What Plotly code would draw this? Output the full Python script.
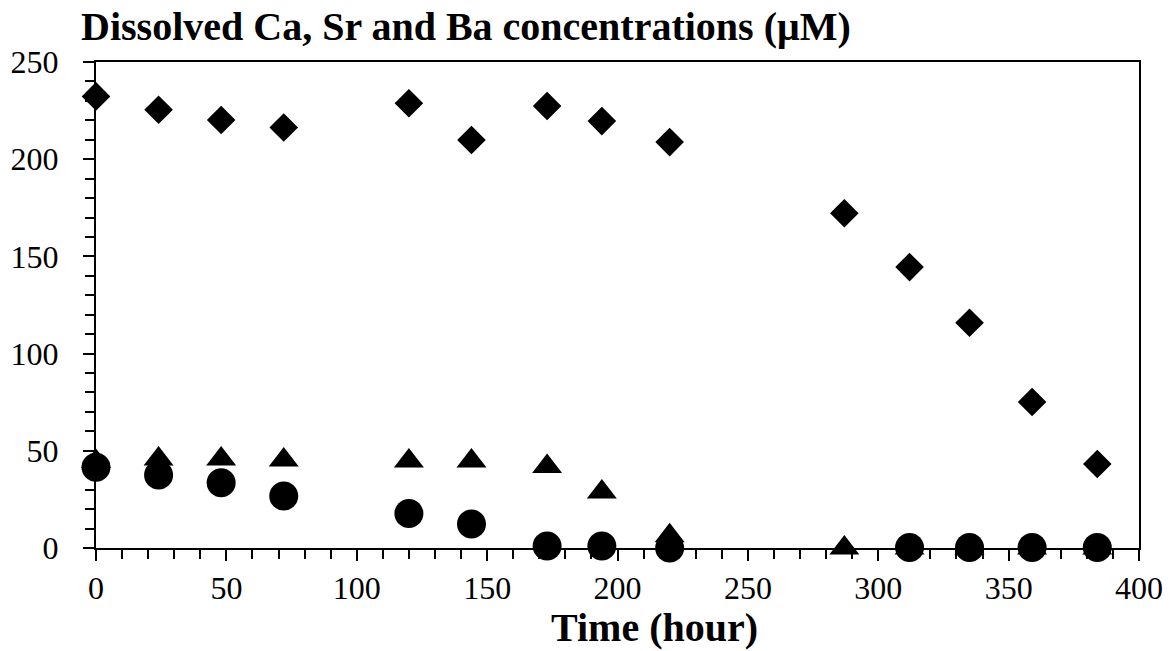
import plotly.graph_objects as go

# Data
time_ca = [0, 24, 48, 72, 120, 144, 173, 194, 220, 287, 312, 335, 359, 384]
ca = [232.3, 225.4, 220.2, 216.3, 228.8, 209.9, 227.4, 219.6, 208.8, 172.2, 144.5, 115.9, 75.1, 43.2]

time_sr = [0, 24, 48, 72, 120, 144, 173, 194, 220, 287, 312, 335, 359, 384]
sr = [44.5, 45.8, 45.8, 45.3, 44.8, 44.8, 41.9, 28.8, 6.3, 0, 0, 0, 0, 0]

time_ba = [0, 24, 48, 72, 120, 144, 173, 194, 220, 312, 335, 359, 384]
ba = [41.5, 37.5, 33.6, 26.7, 17.8, 12.3, 1.0, 1.0, 0.0, 0.3, 0.2, 0.2, 0.2]

x_ticks = [0, 50, 100, 150, 200, 250, 300, 350, 400]
y_ticks = [0, 50, 100, 150, 200, 250]

title_text = "Dissolved Ca, Sr and Ba concentrations (μM)"
x_title = "Time (hour)"

FONT = "Liberation Serif"

fig = go.Figure()
fig.add_trace(go.Scatter(x=time_ca, y=ca, mode="markers", name="Ca",
                         marker=dict(symbol="diamond", size=22, color="black"),
                         cliponaxis=False, showlegend=False))
fig.add_trace(go.Scatter(x=time_sr, y=sr, mode="markers", name="Sr",
                         marker=dict(symbol="triangle-up", size=26, color="black"),
                         cliponaxis=False, showlegend=False))
fig.add_trace(go.Scatter(x=time_ba, y=ba, mode="markers", name="Ba",
                         marker=dict(symbol="circle", size=29, color="black"),
                         cliponaxis=False, showlegend=False))

axis_common = dict(
    showgrid=False, zeroline=False, showline=True, linecolor="black", linewidth=2,
    mirror=True, ticks="outside", ticklen=11, tickwidth=2, tickcolor="black",
    automargin=False,
    tickfont=dict(family=FONT, size=32, color="black"),
)

fig.update_xaxes(range=[0, 400], tickvals=x_ticks, ticktext=[str(v) for v in x_ticks],
                 minor=dict(dtick=10, tick0=0, ticks="outside", ticklen=9, tickwidth=2,
                            tickcolor="black", showgrid=False),
                 **axis_common)
fig.update_yaxes(range=[0, 250], tickvals=y_ticks, ticktext=[str(v) for v in y_ticks],
                 ticklabelstandoff=18,
                 minor=dict(dtick=10, tick0=0, ticks="outside", ticklen=9, tickwidth=2,
                            tickcolor="black", showgrid=False),
                 **axis_common)

fig.add_annotation(text="<b>" + title_text + "</b>", xref="paper", yref="paper",
                   x=-0.016, y=1.074, xanchor="left", yanchor="middle", showarrow=False,
                   font=dict(family=FONT, size=40, color="black"))
fig.add_annotation(text="<b>" + x_title + "</b>", xref="paper", yref="paper",
                   x=0.535, y=-0.164, xanchor="center", yanchor="middle", showarrow=False,
                   font=dict(family=FONT, size=40, color="black"))

fig.update_layout(width=1174, height=651, paper_bgcolor="white", plot_bgcolor="white",
                  margin=dict(l=96, r=35, t=62, b=103))

# remove the default 8px page margin so the figure fills the window exactly
fig.write_html("out.html", config={"displayModeBar": False},
               post_script="document.body.style.margin='0';")
